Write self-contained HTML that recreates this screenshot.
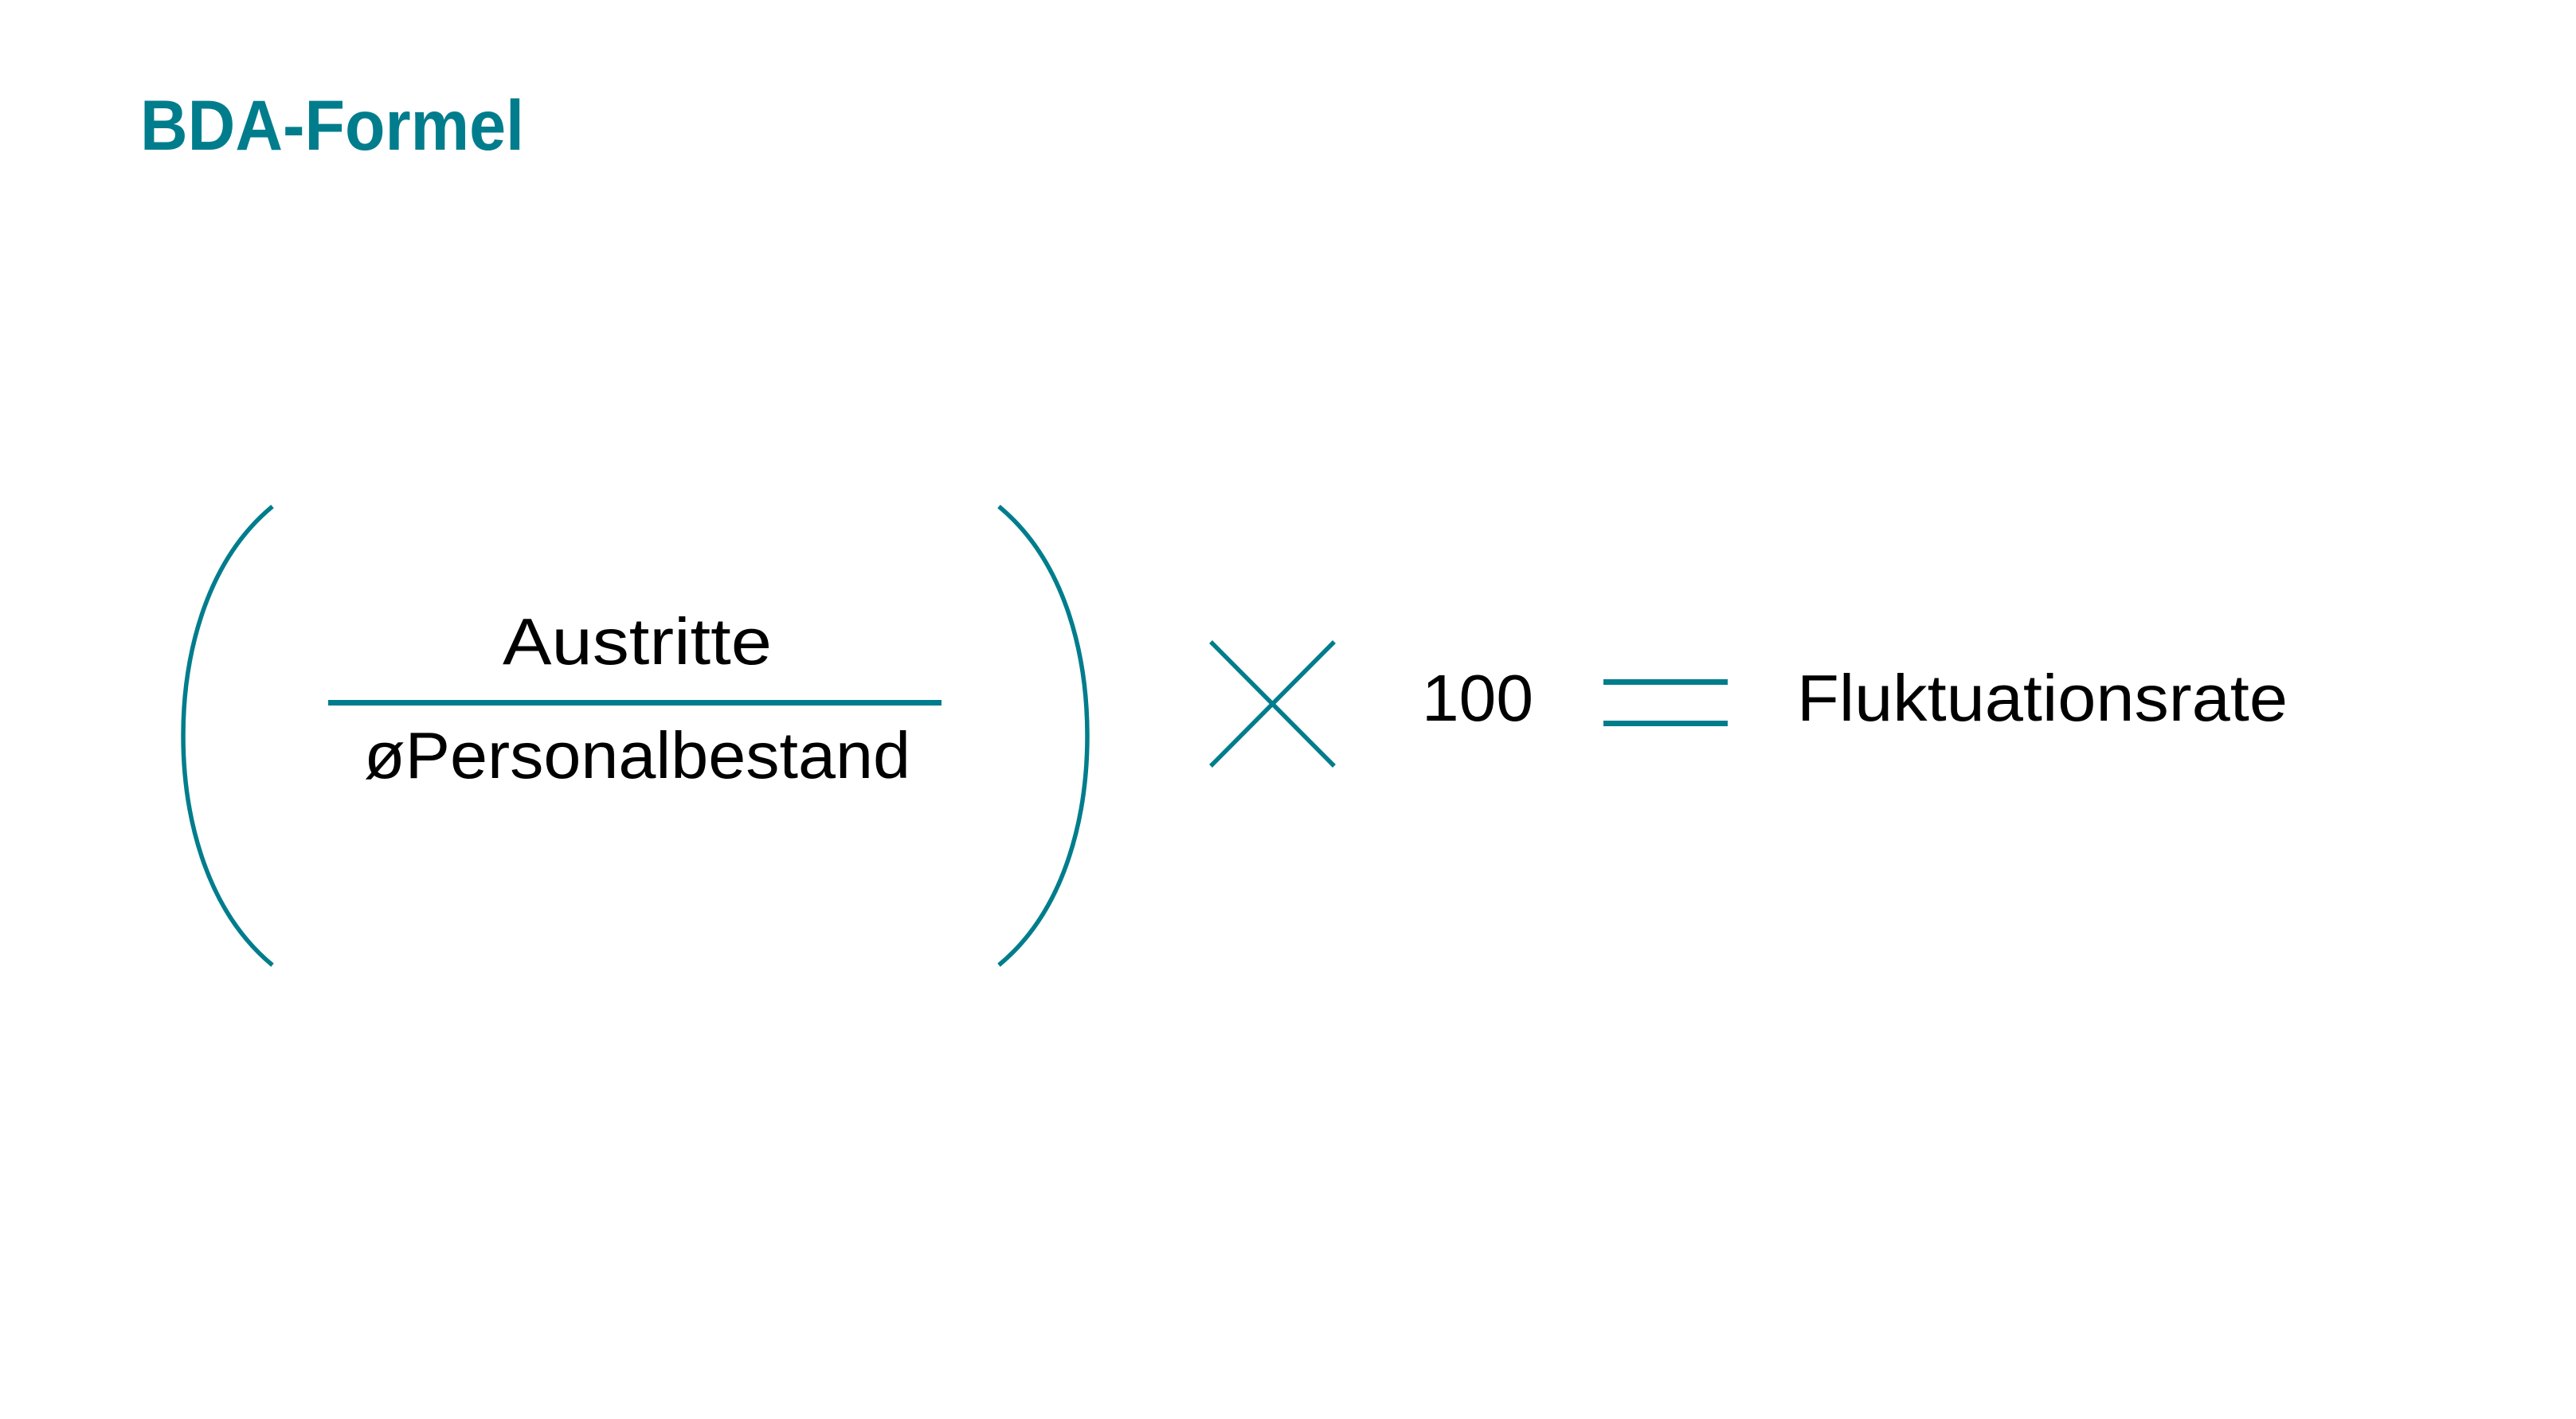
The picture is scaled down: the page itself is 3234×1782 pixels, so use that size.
<!DOCTYPE html>
<html><head><meta charset="utf-8"><style>
html,body{margin:0;padding:0;background:#fff;}
svg{display:block;}
</style></head><body>
<svg width="3234" height="1782" viewBox="0 0 3234 1782" xmlns="http://www.w3.org/2000/svg">
<rect width="3234" height="1782" fill="#fff"/>
<text x="176" y="188" font-family="Liberation Sans, sans-serif" font-weight="bold" font-size="89" fill="#007d8c" textLength="482" lengthAdjust="spacingAndGlyphs">BDA-Formel</text>
<g fill="none" stroke="#007d8c" stroke-width="5.5">
<path d="M342 636 C255 708 230 830 230 924 C230 1018 255 1140 342 1212"/>
<path d="M1254 636 C1341 708 1365 830 1365 924 C1365 1018 1341 1140 1254 1212"/>
<line x1="1528" y1="806" x2="1683" y2="962" transform="translate(-8,0)"/>
<line x1="1683" y1="806" x2="1528" y2="962" transform="translate(-8,0)"/>
</g>
<rect x="412" y="879" width="770" height="7" fill="#007d8c"/>
<rect x="2013" y="853" width="156" height="7" fill="#007d8c"/>
<rect x="2013" y="905" width="156" height="7" fill="#007d8c"/>
<g font-family="Liberation Sans, sans-serif" font-size="83" fill="#000">
<text x="631" y="834" textLength="338" lengthAdjust="spacingAndGlyphs">Austritte</text>
<text x="457" y="977" textLength="686" lengthAdjust="spacingAndGlyphs">øPersonalbestand</text>
<text x="1785" y="905" textLength="140" lengthAdjust="spacingAndGlyphs">100</text>
<text x="2256" y="905" textLength="616" lengthAdjust="spacingAndGlyphs">Fluktuationsrate</text>
</g>
</svg>
</body></html>
